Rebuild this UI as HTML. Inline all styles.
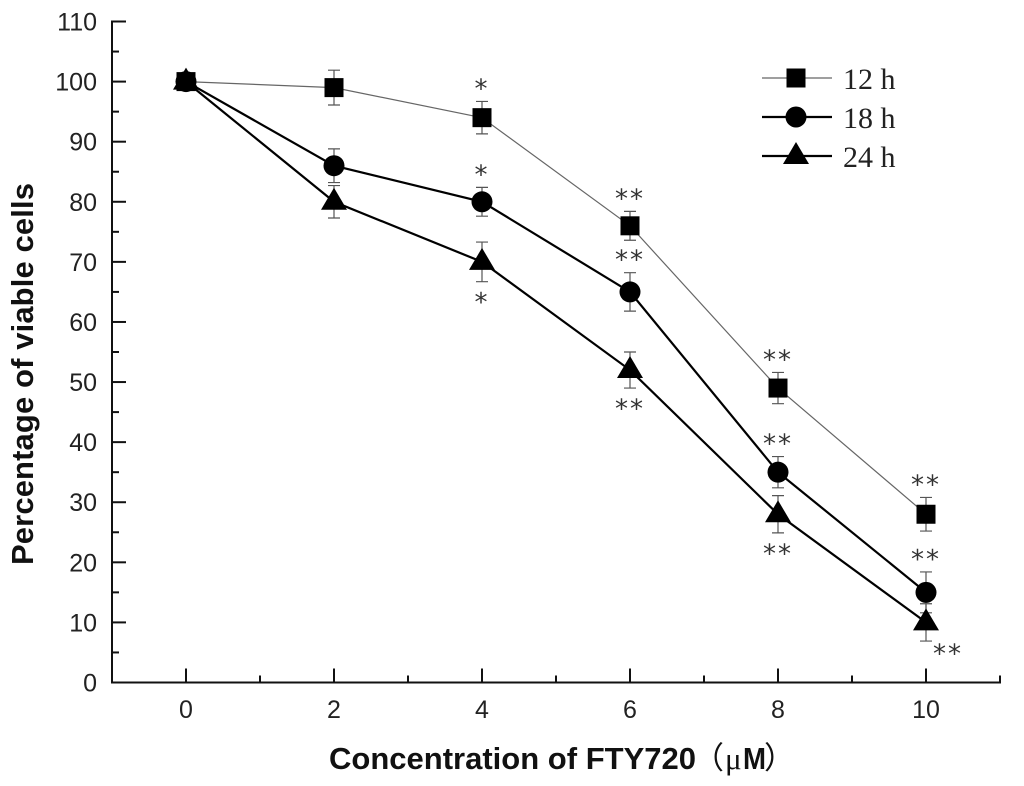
<!DOCTYPE html>
<html lang="en">
<head>
<meta charset="utf-8">
<title>Percentage of viable cells vs FTY720 concentration</title>
<style>
  html, body { margin: 0; padding: 0; background: #fff; }
  svg { display: block; }
  .tick { font-family: "Liberation Sans", sans-serif; font-size: 25px; fill: #222; }
  .title { font-family: "Liberation Sans", sans-serif; font-size: 31px; font-weight: bold; fill: #111; }
  .legend-text { font-family: "Liberation Serif", serif; font-size: 30px; fill: #222; }
  .star { font-family: "DejaVu Sans", sans-serif; font-size: 26px; fill: #333; letter-spacing: 2px; }
</style>
</head>
<body>
<svg id="chart" width="1024" height="786" viewBox="0 0 1024 786" xmlns="http://www.w3.org/2000/svg">
  <rect width="1024" height="786" fill="#fff"/>
  <g id="axes"></g>
  <g id="series"></g>
  <g id="legend"></g>
  <text class="title" x="33" y="374" transform="rotate(-90 33 374)" text-anchor="middle" textLength="382">Percentage of viable cells</text>
  <text class="title" x="329" y="769" textLength="367">Concentration of FTY720</text>
  <text x="693" y="769" font-family="'Liberation Sans','Noto Sans CJK SC',sans-serif" font-size="31" fill="#111">（</text>
  <text x="725" y="769" font-family="'Liberation Serif',serif" font-size="31" fill="#111">μ</text>
  <text class="title" x="743" y="769" textLength="23" lengthAdjust="spacingAndGlyphs">M</text>
  <text x="764" y="769" font-family="'Liberation Sans','Noto Sans CJK SC',sans-serif" font-size="31" fill="#111">）</text>
</svg>
<script>
const xCategories = [0, 2, 4, 6, 8, 10];
const xTickLabels = ['0', '2', '4', '6', '8', '10'];
const yTickLabels = ['0', '10', '20', '30', '40', '50', '60', '70', '80', '90', '100', '110'];
const seriesNames = ['12 h', '18 h', '24 h'];

const values12h = [100, 99, 94, 76, 49, 28];
const values18h = [100, 86, 80, 65, 35, 15];
const values24h = [100, 80, 70, 52, 28, 10];

const errors12h = [0, 2.9, 2.7, 2.4, 2.6, 2.8];
const errors18h = [0, 2.8, 2.4, 3.2, 2.6, 3.4];
const errors24h = [0, 2.7, 3.3, 3.0, 3.1, 3.1];

const stars12h = ['', '', '*', '**', '**', '**'];
const stars18h = ['', '', '*', '**', '**', '**'];
const stars24h = ['', '', '*', '**', '**', '**'];

const NS = 'http://www.w3.org/2000/svg';
const axesG = document.getElementById('axes');
const seriesG = document.getElementById('series');
const legendG = document.getElementById('legend');

function xScale(v) { return 186 + v * 74; }
function yScale(v) { return 682.5 - v * 6.009; }

function make(parent, tag, attrs) {
  const el = document.createElementNS(NS, tag);
  for (const k in attrs) el.setAttribute(k, attrs[k]);
  parent.appendChild(el);
  return el;
}

// Axis lines
const yAxisLine = make(axesG, 'line', { x1: 112, y1: yScale(110) - 1, x2: 112, y2: yScale(0) + 1, stroke: '#111', 'stroke-width': 2 });


const xAxisLine = make(axesG, 'line', { x1: 111, y1: yScale(0), x2: xScale(11) + 1, y2: yScale(0), stroke: '#111', 'stroke-width': 2 });



// Y ticks
yTickLabels.forEach(function (label, i) {
  const val = Number(label);
  const tick = make(axesG, 'line', { x1: 112, y1: yScale(val), x2: 126, y2: yScale(val), stroke: '#111', 'stroke-width': 2 });
  
  
  const txt = make(axesG, 'text', { x: 97, y: yScale(val) + 9, 'text-anchor': 'end', class: 'tick' });
  txt.textContent = label;
  
  
  if (i < yTickLabels.length - 1) {
    const minorVal = val + 5;
    const minor = make(axesG, 'line', { x1: 112, y1: yScale(minorVal), x2: 119, y2: yScale(minorVal), stroke: '#111', 'stroke-width': 2 });
    
    
  }
});

// X ticks
xCategories.forEach(function (val, i) {
  const tick = make(axesG, 'line', { x1: xScale(val), y1: yScale(0), x2: xScale(val), y2: yScale(0) - 14, stroke: '#111', 'stroke-width': 2 });
  
  
  const txt = make(axesG, 'text', { x: xScale(val), y: 718, 'text-anchor': 'middle', class: 'tick' });
  txt.textContent = xTickLabels[i];
  
  
  const minor = make(axesG, 'line', { x1: xScale(val + 1), y1: yScale(0), x2: xScale(val + 1), y2: yScale(0) - 7, stroke: '#111', 'stroke-width': 2 });
  
  
});
const xMinorStart = make(axesG, 'line', { x1: xScale(-1), y1: yScale(0), x2: xScale(-1), y2: yScale(0) - 7, stroke: '#111', 'stroke-width': 2 });



function marker(parent, shape, cx, cy) {
  let el;
  if (shape === 'square') {
    el = make(parent, 'rect', { x: cx - 9.5, y: cy - 9.5, width: 19, height: 19, fill: '#000' });
  } else if (shape === 'circle') {
    el = make(parent, 'circle', { cx: cx, cy: cy, r: 10.5, fill: '#000' });
  } else {
    const pts = [cx, cy - 14, cx + 13, cy + 8, cx - 13, cy + 8].join(' ');
    el = make(parent, 'polygon', { points: pts, fill: '#000' });
  }
  return el;
}

function drawSeries(key, values, errors, stars, shape, lineColor, lineWidth, starSide) {
  const g = make(seriesG, 'g', {});
  
  

  // error bars
  values.forEach(function (v, i) {
    if (!errors[i]) return;
    const px = xScale(xCategories[i]);
    const hi = yScale(v + errors[i]);
    const lo = yScale(v - errors[i]);
    const bar = make(g, 'path', {
      d: 'M' + (px - 6) + ' ' + hi + 'H' + (px + 6) + 'M' + px + ' ' + hi + 'V' + lo + 'M' + (px - 6) + ' ' + lo + 'H' + (px + 6),
      stroke: '#555', 'stroke-width': 1.2, fill: 'none'
    });
    
    
  });

  // line
  const d = values.map(function (v, i) { return (i ? 'L' : 'M') + xScale(xCategories[i]) + ' ' + yScale(v); }).join('');
  const path = make(g, 'path', { d: d, fill: 'none', stroke: lineColor, 'stroke-width': lineWidth });
  
  

  // markers
  values.forEach(function (v, i) {
    const m = marker(g, shape, xScale(xCategories[i]), yScale(v));
    
    
  });

  // significance stars
  stars.forEach(function (s, i) {
    if (!s) return;
    const v = values[i];
    const px = xScale(xCategories[i]);
    const errPx = errors[i] * 6.009;
    const last = starSide > 0 && i === stars.length - 1;
    const cy = yScale(v) + starSide * (errPx + (last ? 7 : 15));
    const t = make(g, 'text', { x: px + (last ? 22 : 0), y: cy + (starSide > 0 ? 14.5 : 11), 'text-anchor': 'middle', class: 'star' });
    t.textContent = s;
    
    
  });
}

drawSeries('12h', values12h, errors12h, stars12h, 'square', '#666', 1.2, -1);
drawSeries('18h', values18h, errors18h, stars18h, 'circle', '#000', 2.2, -1);
drawSeries('24h', values24h, errors24h, stars24h, 'triangle', '#000', 2.2, 1);

// Legend
const legendShapes = ['square', 'circle', 'triangle'];
const legendColors = ['#666', '#000', '#000'];
const legendWidths = [1.2, 2.2, 2.2];
seriesNames.forEach(function (name, i) {
  const y = 78 + i * 39;
  const g = make(legendG, 'g', {});
  
  
  const ln = make(g, 'line', { x1: 762, y1: y, x2: 832, y2: y, stroke: legendColors[i], 'stroke-width': legendWidths[i] });
  
  
  const m = marker(g, legendShapes[i], 796, y);
  
  
  const t = make(g, 'text', { x: 843, y: y + 11, class: 'legend-text' });
  t.textContent = name;
  
  
});
</script>
</body>
</html>
